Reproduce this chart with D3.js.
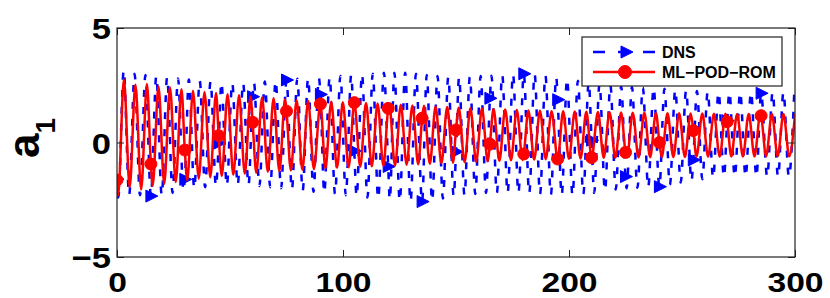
<!DOCTYPE html>
<html><head><meta charset="utf-8">
<script src="https://cdn.jsdelivr.net/npm/d3@7"></script>
<style>
body{margin:0;background:#fff}
svg{display:block}
text{font-family:"Liberation Sans",Arial,Helvetica,sans-serif;font-weight:bold;fill:#000}
</style>
</head><body>
<svg id="c" width="830" height="298"></svg>
<script>
// ---------- data ----------
const xTicks = [0, 100, 200, 300];
const xTickLabels = ["0", "100", "200", "300"];
const yTicks = [-5, 0, 5];
const yTickLabels = ["\u22125", "0", "5"];
const seriesNames = ["DNS", "ML\u2212POD\u2212ROM"];

const markerTimes = [0,15,30,45,60,75,90,105,120,135,150,165,180,195,210,225,240,255,270,285];
const dnsMarkers = [-1.6,-2.34,-1.61,-0.03,2.0,2.73,2.1,-0.37,-1.05,-2.58,-0.4,1.93,3.0,1.87,0.1,-1.49,-1.93,-0.76,0.95,2.15];
const romMarkers = [-1.64,-0.94,-0.33,0.3,0.88,1.37,1.68,1.74,1.49,1.06,0.55,-0.07,-0.5,-0.72,-0.66,-0.43,0.0,0.52,0.91,1.17];

// successive troughs / peaks of DNS (time, value)
const dnsExtT = [0.58,2.98,5.38,7.78,10.18,12.58,14.98,17.38,19.79,22.19,24.59,26.99,29.39,31.79,34.19,36.59,38.99,41.39,43.79,46.19,48.59,50.99,53.40,55.80,58.20,60.60,63.00,65.40,67.80,70.20,72.60,75.00,77.39,79.77,82.16,84.55,86.94,89.32,91.71,94.09,96.48,98.86,101.25,103.64,106.03,108.41,110.80,113.18,115.57,118.10,120.70,122.73,125.12,127.50,129.89,132.27,134.66,137.05,139.44,141.82,144.21,146.59,148.98,151.36,153.75,156.14,158.53,160.91,163.30,165.68,168.07,170.45,172.84,175.23,177.62,180.00,182.40,184.79,187.18,189.57,191.97,194.36,196.76,199.15,201.55,203.94,206.33,208.72,211.12,213.51,215.91,218.30,220.69,223.08,225.48,227.87,230.27,232.66,235.05,237.44,239.84,242.23,244.63,247.02,249.42,251.81,254.20,256.59,258.99,261.38,263.78,266.17,268.56,270.95,273.35,275.74,278.14,280.53,282.92,285.31,287.71,290.10,292.50,294.89,297.29,299.68];
const dnsExtV = [-2.40,3.15,-2.30,3.00,-2.30,2.95,-2.36,2.90,-2.30,2.85,-2.20,2.80,-2.10,2.75,-2.00,2.70,-1.95,2.66,-1.90,2.63,-1.88,2.60,-1.85,2.60,-1.85,2.62,-1.90,2.66,-1.95,2.70,-2.00,2.75,-2.05,2.78,-2.10,2.80,-2.15,2.82,-2.20,2.85,-2.25,2.90,-2.30,2.95,-2.35,2.98,-2.40,3.00,-2.45,3.05,-2.50,3.05,-2.55,3.05,-2.58,3.00,-2.60,2.95,-2.55,2.90,-2.45,2.86,-2.35,2.85,-2.30,2.86,-2.25,2.90,-2.20,2.92,-2.20,2.95,-2.20,2.98,-2.20,3.02,-2.22,2.98,-2.25,2.92,-2.28,2.85,-2.30,2.78,-2.30,2.70,-2.25,2.62,-2.20,2.55,-2.10,2.50,-2.05,2.45,-2.00,2.42,-1.98,2.40,-1.95,2.38,-1.93,2.35,-1.85,2.30,-1.75,2.28,-1.68,2.25,-1.60,2.22,-1.55,2.20,-1.50,2.20,-1.50,2.20,-1.50,2.20,-1.50,2.20,-1.50,2.20,-1.50,2.20,-1.50,2.20];

// successive troughs / peaks of ML-POD-ROM (time, value)
const romExtT = [0.51,3.06,5.61,8.15,10.70,13.25,15.80,18.34,20.89,23.44,25.99,28.53,31.08,33.62,36.17,38.72,41.27,43.81,46.36,48.91,51.46,54.00,56.55,59.09,61.64,64.19,66.74,69.28,71.83,74.38,76.93,79.47,82.02,84.56,87.11,89.66,92.23,94.79,97.36,99.92,102.49,105.05,107.62,110.18,112.75,115.31,117.88,120.45,123.02,125.58,128.15,130.71,133.28,135.84,138.41,140.97,143.54,146.10,148.67,151.23,153.80,156.36,158.93,161.49,164.06,166.62,169.19,171.76,174.33,176.89,179.46,182.02,184.59,187.15,189.72,192.28,194.85,197.41,199.98,202.54,205.11,207.67,210.24,212.80,215.37,217.93,220.50,223.07,225.64,228.20,230.77,233.33,235.90,238.46,241.03,243.59,246.16,248.72,251.29,253.85,256.42,258.98,261.55,264.11,266.68,269.24,271.81,274.38,276.95,279.51,282.08,284.64,287.21,289.77,292.34,294.90,297.47,300.03];
const romExtV = [-2.30,2.75,-1.95,2.52,-2.05,2.55,-1.88,2.45,-1.80,2.40,-1.72,2.32,-1.65,2.26,-1.58,2.21,-1.52,2.16,-1.46,2.11,-1.41,2.06,-1.36,2.01,-1.32,1.97,-1.28,1.93,-1.25,1.89,-1.22,1.85,-1.19,1.82,-1.16,1.79,-1.13,1.78,-1.10,1.76,-1.08,1.75,-1.06,1.73,-1.04,1.70,-1.02,1.67,-1.00,1.65,-0.97,1.62,-0.95,1.60,-0.93,1.57,-0.90,1.55,-0.88,1.52,-0.86,1.50,-0.84,1.48,-0.82,1.46,-0.80,1.44,-0.78,1.42,-0.76,1.40,-0.74,1.39,-0.73,1.37,-0.72,1.36,-0.71,1.35,-0.70,1.34,-0.68,1.33,-0.67,1.32,-0.66,1.31,-0.65,1.30,-0.65,1.30,-0.64,1.29,-0.64,1.28,-0.63,1.28,-0.63,1.27,-0.62,1.27,-0.62,1.26,-0.62,1.26,-0.61,1.25,-0.61,1.25,-0.61,1.25,-0.60,1.24,-0.60,1.24,-0.60,1.24];

// ---------- layout ----------
const svg = d3.select("#c");
const L = 117, R = 795, T = 28, B = 257;
const x = d3.scaleLinear().domain([0, 300]).range([L, R]);
const y = d3.scaleLinear().domain([-5, 5]).range([B, T]);
const BLUE = "#0000ff", RED = "#ff0000";
const FONT = '"Liberation Sans", Arial, Helvetica, sans-serif';

svg.append("defs").append("clipPath").attr("id","clip")
  .append("rect").attr("x",L).attr("y",T).attr("width",R-L).attr("height",B-T);

function build(extT, extV, mT, mV) {
  const pts = extT.map((t,i)=>({t, v: extV[i]}))
    .filter(p => !mT.some(m => Math.abs(m - p.t) < 0.35));
  mT.forEach((t,i)=>pts.push({t, v: mV[i]}));
  pts.sort((a,b)=>a.t-b.t);
  return pts;
}
const line = d3.line().x(d=>x(d.t)).y(d=>y(d.v)).curve(d3.curveMonotoneX);
const triPath = "M-5,-6L-5,6L7,0Z";

const plot = svg.append("g").attr("clip-path","url(#clip)");
// DNS
plot.append("path").datum(build(dnsExtT, dnsExtV, markerTimes, dnsMarkers))
  .attr("d", line).attr("fill","none").attr("stroke",BLUE)
  .attr("stroke-width",2.5).attr("stroke-dasharray","7,10");
plot.append("g").selectAll("path").data(markerTimes).join("path")
  .attr("d", triPath)
  .attr("transform",(t,i)=>`translate(${x(t)},${y(dnsMarkers[i])})`)
  .attr("fill",BLUE).attr("stroke",BLUE);
// ROM
plot.append("path").datum(build(romExtT, romExtV, markerTimes, romMarkers))
  .attr("d", line).attr("fill","none").attr("stroke",RED).attr("stroke-width",2.5);
plot.append("g").selectAll("circle").data(markerTimes).join("circle")
  .attr("cx", t=>x(t)).attr("cy",(t,i)=>y(romMarkers[i])).attr("r",6)
  .attr("fill",RED).attr("stroke",RED);

// ---------- axes ----------
const TS = 7;
const xb = svg.append("g").attr("transform",`translate(0,${B})`)
  .call(d3.axisBottom(x).tickValues(xTicks).tickFormat((d,i)=>xTickLabels[i]).tickSize(-TS).tickPadding(0));
const xt = svg.append("g").attr("transform",`translate(0,${T})`)
  .call(d3.axisTop(x).tickValues(xTicks).tickFormat("").tickSize(-TS));
const yl = svg.append("g").attr("transform",`translate(${L},0)`)
  .call(d3.axisLeft(y).tickValues(yTicks).tickFormat((d,i)=>yTickLabels[i]).tickSize(-TS).tickPadding(0));
const yr = svg.append("g").attr("transform",`translate(${R},0)`)
  .call(d3.axisRight(y).tickValues(yTicks).tickFormat("").tickSize(-TS));
[xb,xt,yl,yr].forEach(g=>{
  g.select(".domain").remove();
  g.selectAll(".tick line").attr("stroke","#222").attr("stroke-width",1);
});
const SX = 1.15;
xb.selectAll(".tick text").attr("font-size",28).attr("font-family",FONT).attr("font-weight","bold")
  .attr("y",0).attr("dy",0).attr("transform",`translate(0,35) scale(1.2,1)`);
yl.selectAll(".tick text").attr("font-size",30).attr("font-family",FONT).attr("font-weight","bold")
  .attr("x",0).attr("dy","0.36em").attr("transform",`translate(-6,0) scale(${SX},1)`);

svg.append("rect").attr("x",L).attr("y",T).attr("width",R-L).attr("height",B-T)
  .attr("fill","none").attr("stroke","#222").attr("stroke-width",1.2);

// y label a_1
const yLab = svg.append("text").attr("transform","translate(39,158) rotate(-90)")
  .attr("font-size",44).attr("text-anchor","start");
yLab.append("tspan").text("a");
yLab.append("tspan").attr("font-size",28).attr("dy",16).text("1");

// ---------- legend ----------
const lg = svg.append("g");
lg.append("rect").attr("x",582).attr("y",37).attr("width",200).attr("height",49)
  .attr("fill","#fff").attr("stroke","#222").attr("stroke-width",1.2);
const rows = [52, 72];
lg.append("line").attr("x1",593).attr("x2",655).attr("y1",rows[0]).attr("y2",rows[0])
  .attr("stroke",BLUE).attr("stroke-width",2.5).attr("stroke-dasharray","12,13");
lg.append("path").attr("d",triPath).attr("transform",`translate(626,${rows[0]})`)
  .attr("fill",BLUE).attr("stroke",BLUE);
lg.append("line").attr("x1",593).attr("x2",655).attr("y1",rows[1]).attr("y2",rows[1])
  .attr("stroke",RED).attr("stroke-width",2.5);
lg.append("circle").attr("cx",625).attr("cy",rows[1]).attr("r",6.5).attr("fill",RED).attr("stroke",RED);
lg.selectAll("text.lab").data(seriesNames).join("text").attr("class","lab")
  .attr("x",662).attr("y",(d,i)=>rows[i]+6).attr("font-size",16).text(d=>d);
</script>
</body></html>
